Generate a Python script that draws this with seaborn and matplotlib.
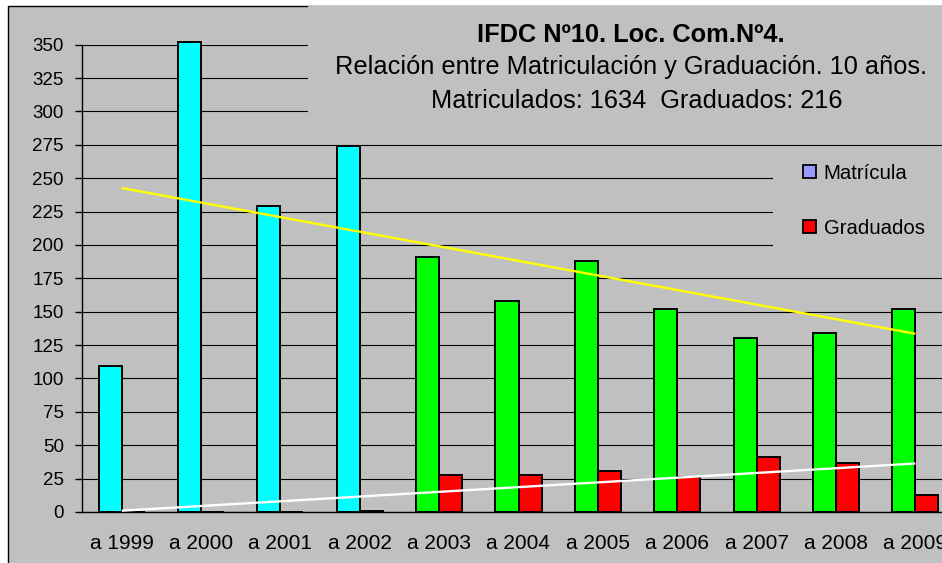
import numpy as np
import pandas as pd
import matplotlib
matplotlib.use("Agg")
import matplotlib.pyplot as plt
from matplotlib.patches import Rectangle, Patch
import seaborn as sns

# ---- data ----
years = ["a 1999", "a 2000", "a 2001", "a 2002", "a 2003", "a 2004",
         "a 2005", "a 2006", "a 2007", "a 2008", "a 2009"]
matricula = [109, 352, 229, 274, 191, 158, 188, 152, 130, 134, 152]
graduados = [0, 0, 0, 1, 28, 28, 31, 26, 41, 37, 13]
series_names = ["Matrícula", "Graduados"]
title_lines = ["IFDC Nº10. Loc. Com.Nº4.",
               "Relación entre Matriculación y Graduación. 10 años.",
               "Matriculados: 1634  Graduados: 216"]
y_ticks = list(range(0, 351, 25))

# ---- style ----
sns.set_style("white")
plt.rcParams["font.family"] = ["Liberation Sans", "DejaVu Sans"]
plt.rcParams["text.color"] = "black"
plt.rcParams["xtick.color"] = "black"
plt.rcParams["ytick.color"] = "black"

GRAY = "#C0C0C0"
CYAN = "#00FFFF"
GREEN = "#00FF00"
RED = "#FF0000"
LAVENDER = "#9999FF"
n_cyan = 4  # first years drawn in cyan

W, H = 942, 563
fig = plt.figure(figsize=(W / 100, H / 100), dpi=100, facecolor="white")

# chart area background with border
fig.patches.append(Rectangle((8 / W, -0.1), 1.2, 1 - 6 / H + 0.1,
                             transform=fig.transFigure, facecolor=GRAY,
                             edgecolor="black", linewidth=1.0, zorder=-5))

ax = fig.add_axes([82 / W, 1 - 512 / H, (955 - 82) / W, (512 - 44.7) / H])
ax.set_facecolor(GRAY)

df = pd.DataFrame({
    "Año": years * 2,
    "Valor": matricula + graduados,
    "Serie": [series_names[0]] * len(years) + [series_names[1]] * len(years),
})

sns.barplot(data=df, x="Año", y="Valor", hue="Serie", order=years,
            hue_order=series_names, palette=[CYAN, RED], saturation=1,
            width=0.58, edgecolor="black", linewidth=1.4, legend=False,
            errorbar=None, ax=ax, zorder=3)

# recolor Matrícula bars: cyan then green
for i, bar in enumerate(ax.containers[0]):
    bar.set_facecolor(CYAN if i < n_cyan else GREEN)
for cont in ax.containers:
    for bar in cont:
        bar.set_clip_on(False)

# linear trend lines
xs = np.arange(len(years))
for vals, col in [(matricula, "#FFFF00"), (graduados, "white")]:
    m, b = np.polyfit(xs, vals, 1)
    ax.plot([xs[0], xs[-1]], [m * xs[0] + b, m * xs[-1] + b], color=col,
            lw=1.7, zorder=4, solid_capstyle="butt")

ax.set_xlim(-0.5, len(years) - 0.5)
ax.set_ylim(0, 350)
ax.set_yticks(y_ticks)
ax.set_yticklabels([str(t) for t in y_ticks], fontsize=13.5)
ax.set_xticks(xs)
ax.set_xticklabels(years, fontsize=15)
ax.set_xticks(np.arange(-0.5, len(years), 1.0), minor=True)
ax.tick_params(axis="x", which="major", length=0, pad=16, colors="black")
ax.tick_params(axis="x", which="minor", length=5, width=1, direction="out",
               color="black")
ax.tick_params(axis="y", which="major", length=5, width=1, direction="out",
               pad=8, colors="black", left=True)
ax.set_xlabel("")
ax.set_ylabel("")
ax.yaxis.grid(True, color="black", lw=0.8, zorder=0)
ax.set_axisbelow(True)
for s in ["top", "right"]:
    ax.spines[s].set_visible(False)
for s in ["left", "bottom"]:
    ax.spines[s].set_color("black")
    ax.spines[s].set_linewidth(1.0)

# title box (covers gridlines)
fig.patches.append(Rectangle((308 / W, 1 - 132 / H), 1.0, 132 / H - 5.5 / H,
                             transform=fig.transFigure, facecolor=GRAY,
                             edgecolor="none", zorder=1))
fig.text(631 / W, 1 - 41.7 / H, title_lines[0], ha="center", va="baseline",
         fontsize=18.3, fontweight="bold", color="black")
fig.text(631 / W, 1 - 74 / H, title_lines[1], ha="center", va="baseline",
         fontsize=18.3, color="black")
fig.text(637 / W, 1 - 108.3 / H, title_lines[2], ha="center", va="baseline",
         fontsize=18.3, color="black")

# legend box
fig.patches.append(Rectangle((773 / W, 1 - 270 / H), 1.0, 120 / H,
                             transform=fig.transFigure, facecolor=GRAY,
                             edgecolor="none", zorder=1))
handles = [Patch(facecolor=LAVENDER, edgecolor="black", lw=1.3),
           Patch(facecolor=RED, edgecolor="black", lw=1.3)]
fig.legend(handles, series_names, loc="center left",
           bbox_to_anchor=(803 / W, 1 - 200.8 / H),
           bbox_transform=fig.transFigure, frameon=False, fontsize=14.7,
           handlelength=0.62, handleheight=0.62, handletextpad=0.4,
           labelspacing=1.75, borderpad=0, borderaxespad=0,
           labelcolor="black")

fig.savefig("out.png", dpi=100, facecolor="white")
